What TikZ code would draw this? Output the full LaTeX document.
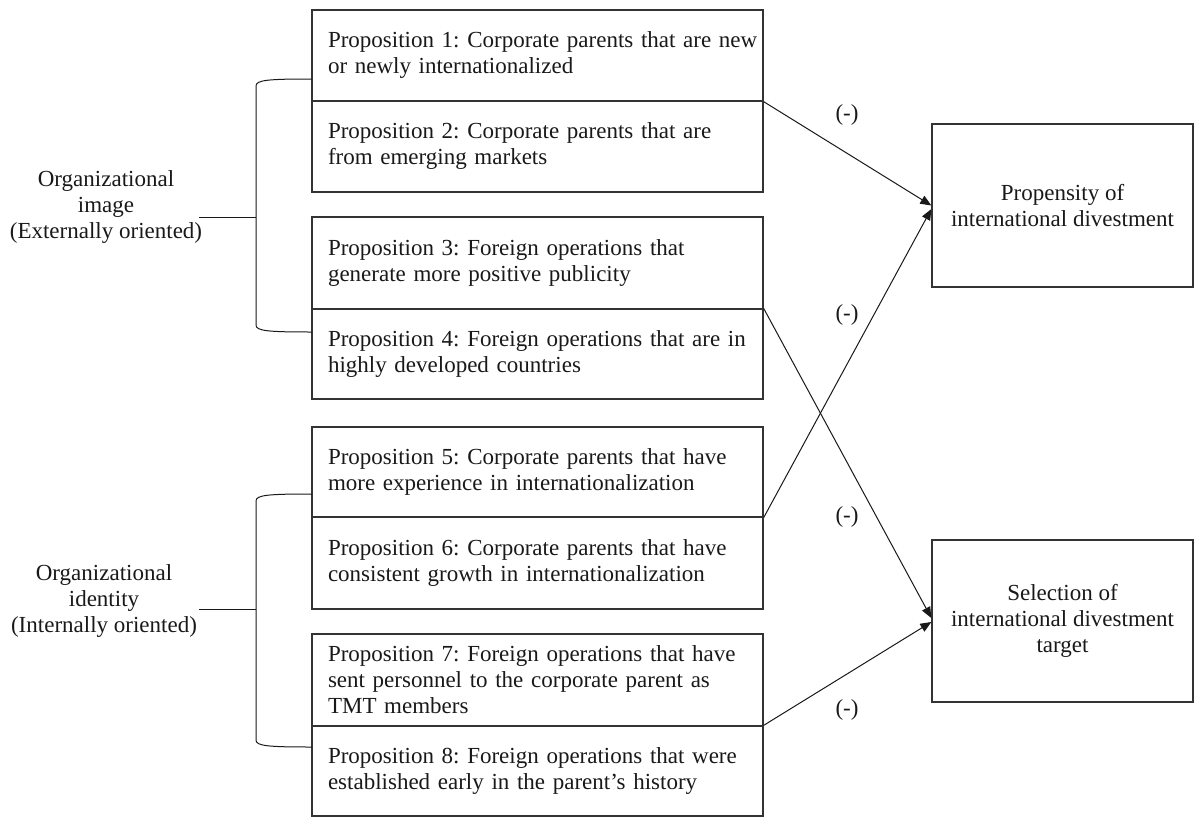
\documentclass[tikz,border=0pt]{standalone}
\usepackage{fontspec}
\setmainfont{Liberation Serif}
\usetikzlibrary{arrows.meta,calc}
\begin{document}
\frenchspacing
\begin{tikzpicture}[x=1pt,y=-1pt,
  every node/.style={font=\fontsize{23}{26}\selectfont\frenchspacing, text=black!90},
  propbox/.style={draw=black!80, line width=1.3pt, text width=419pt, inner xsep=16pt, inner ysep=3pt, minimum height=91pt, align=left},
  outbox/.style={draw=black!80, line width=1.3pt, minimum width=261pt, minimum height=163pt, align=center},
  conn/.style={draw=black!90, line width=1pt},
  arr/.style={conn, -{Triangle[length=11pt,width=9pt]}},
  sign/.style={inner sep=0pt}
]
\useasboundingbox (0,0) rectangle (1194,819);

% proposition boxes
\node[propbox] (p1) at (537.5,55.5) {\mbox{Proposition 1: Corporate parents that are new}\\or newly internationalized};
\node[propbox] (p2) at (537.5,146.5) {Proposition 2: Corporate parents that are\\from emerging markets};
\node[propbox, minimum height=92pt] (p3) at (537.5,263) {Proposition 3: Foreign operations that\\generate more positive publicity};
\node[propbox, minimum height=90pt] (p4) at (537.5,354) {\mbox{Proposition 4: Foreign operations that are in}\\highly developed countries};
\node[propbox, minimum height=90pt] (p5) at (537.5,472) {Proposition 5: Corporate parents that have\\more experience in internationalization};
\node[propbox, minimum height=92pt] (p6) at (537.5,563) {Proposition 6: Corporate parents that have\\consistent growth in internationalization};
\node[propbox, minimum height=92pt] (p7) at (537.5,680) {\mbox{Proposition 7: Foreign operations that have}\\sent personnel to the corporate parent as\\TMT members};
\node[propbox, minimum height=90pt] (p8) at (537.5,771) {\mbox{Proposition 8: Foreign operations that were}\\established early in the parent's history};

% outcome boxes
\node[outbox] (oa) at (1062.5,205.5) {Propensity of\\international divestment};
\node[outbox, minimum height=162pt] (ob) at (1062.5,621) {Selection of\\international divestment\\target};

% left labels
\node[align=center, inner sep=0pt] (img) at (106,207) {Organizational\\image\\(Externally oriented)};
\node[align=center, inner sep=0pt] (idt) at (104,601) {Organizational\\identity\\(Internally oriented)};

% bracket coordinates
\coordinate (b1t) at (312,79);
\coordinate (b1b) at (312,332);
\coordinate (b1m) at (256,217);
\coordinate (l1) at (199,217);
\coordinate (b2t) at (312,494);
\coordinate (b2b) at (312,747);
\coordinate (b2m) at (256,609);
\coordinate (l2) at (199,609);

\draw[conn] (b1t) .. controls (268,79) and (256,80) .. (256,86) -- (256,325) .. controls (256,331) and (268,332) .. (b1b);
\draw[conn] (l1) -- (b1m);
\draw[conn] (b2t) .. controls (268,494) and (256,495) .. (256,501) -- (256,740) .. controls (256,746) and (268,747) .. (b2b);
\draw[conn] (l2) -- (b2m);

% arrows
\draw[arr] (p1.south east) -- ([yshift=0pt]oa.west);
\draw[arr] (p5.south east) -- ([yshift=-3.5pt]oa.west);
\draw[arr] (p4.north east) -- ([yshift=3pt]ob.west);
\draw[arr] (p8.north east) -- ([yshift=-1pt]ob.west);

% signs
\node[sign] (s1) at (847,115) {(-)};
\node[sign] (s2) at (847,315) {(-)};
\node[sign] (s3) at (847,517) {(-)};
\node[sign] (s4) at (847,710) {(-)};
\end{tikzpicture}
\end{document}
